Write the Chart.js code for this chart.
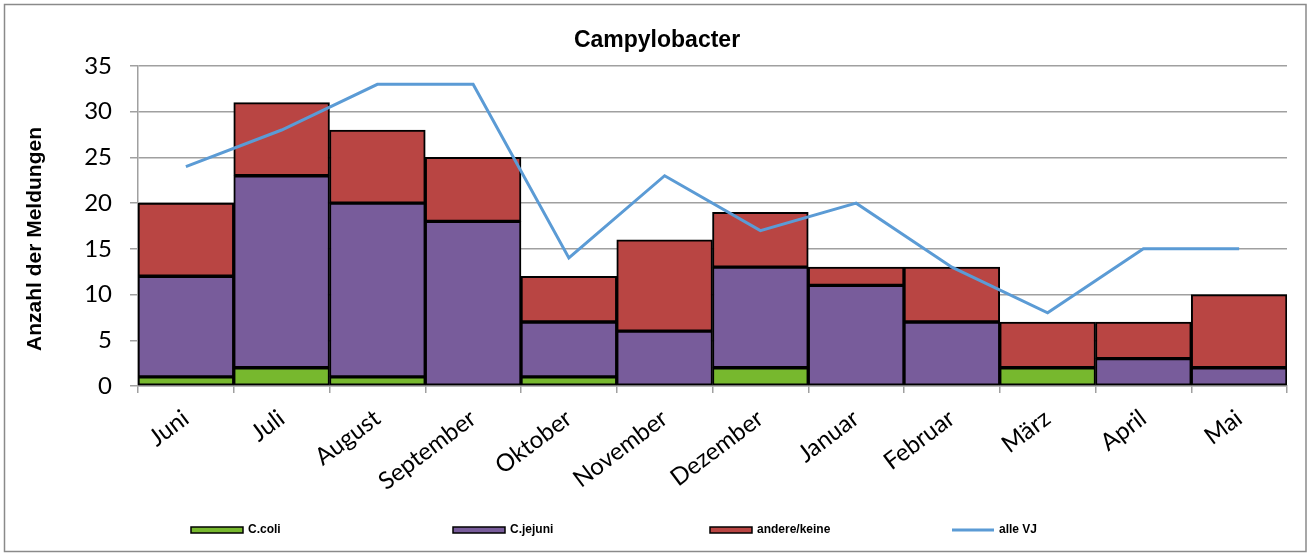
<!DOCTYPE html>
<html>
<head>
<meta charset="utf-8">
<script src="https://cdn.jsdelivr.net/npm/chart.js@4/dist/chart.umd.min.js"></script>
<style>
html,body{margin:0;padding:0;background:#fff;}
#wrap{width:1310px;height:555px;position:relative;}
</style>
</head>
<body>
<div id="wrap"><canvas id="c" width="1310" height="555"></canvas></div>
<script>
const categories = ["Juni","Juli","August","September","Oktober","November","Dezember","Januar","Februar","März","April","Mai"];
const cColi    = [1, 2, 1, 0, 1, 0, 2, 0, 0, 2, 0, 0];
const cJejuni  = [11, 21, 19, 18, 6, 6, 11, 11, 7, 0, 3, 2];
const andere   = [8, 8, 8, 7, 5, 10, 6, 2, 6, 5, 4, 8];
const alleVJ   = [24, 28, 33, 33, 14, 23, 17, 20, 13, 8, 15, 15];
const yTicks   = [0, 5, 10, 15, 20, 25, 30, 35];
const chartTitle = "Campylobacter";
const yTitle = "Anzahl der Meldungen";

const GREEN = '#77B82E', PURPLE = '#785C9B', RED = '#B94543', BLUE = '#5B9BD5';

const decor = {
  id: 'decor',
  beforeDraw(chart) {
    const ctx = chart.ctx;
    ctx.save();
    ctx.fillStyle = '#fff';
    ctx.fillRect(0, 0, chart.width, chart.height);
    ctx.strokeStyle = '#8a8a8a';
    ctx.lineWidth = 1.5;
    ctx.strokeRect(4.5, 4.5, chart.width - 8.5, chart.height - 8);
    ctx.restore();
  },
  afterDraw(chart) {
    const ctx = chart.ctx;
    ctx.save();
    // title
    ctx.fillStyle = '#000';
    ctx.font = 'bold 23px "Liberation Sans", Arial, sans-serif';
    ctx.textAlign = 'center';
    ctx.textBaseline = 'middle';
    ctx.fillText(chartTitle, 657, 41);
    // y title
    ctx.translate(35, 239);
    ctx.rotate(-Math.PI / 2);
    ctx.font = 'bold 21px "Liberation Sans", Arial, sans-serif';
    ctx.fillText(yTitle, 0, 0);
    ctx.restore();
    // legend
    ctx.save();
    const items = chart.data.datasets.map(d => ({label: d.label, color: d.backgroundColor, line: d.type === 'line', stroke: d.borderColor}));
    const xs = [191, 453, 710, 952];
    const ws = [52, 52, 42, 42];
    const ly = 530;
    ctx.font = 'bold 12px "Liberation Sans", Arial, sans-serif';
    ctx.textBaseline = 'middle';
    ctx.textAlign = 'left';
    items.forEach((it, i) => {
      const x = xs[i];
      if (it.line) {
        ctx.strokeStyle = it.stroke;
        ctx.lineWidth = 3;
        ctx.beginPath();
        ctx.moveTo(x, ly);
        ctx.lineTo(x + ws[i], ly);
        ctx.stroke();
      } else {
        ctx.fillStyle = it.color;
        ctx.fillRect(x, ly - 3, ws[i], 6);
        ctx.strokeStyle = '#000';
        ctx.lineWidth = 1.5;
        ctx.strokeRect(x, ly - 3, ws[i], 6);
      }
      ctx.fillStyle = '#000';
      ctx.fillText(it.label, x + ws[i] + 5, ly);
    });
    ctx.restore();
  }
};

const barCommon = {
  borderColor: '#000',
  borderWidth: 2,
  borderSkipped: false,
  barPercentage: 1.0,
  categoryPercentage: 1.0,
  stack: 'bars',
  order: 1
};

new Chart(document.getElementById('c'), {
  data: {
    labels: categories,
    datasets: [
      Object.assign({type: 'bar', label: 'C.coli', data: cColi, backgroundColor: GREEN}, barCommon),
      Object.assign({type: 'bar', label: 'C.jejuni', data: cJejuni, backgroundColor: PURPLE}, barCommon),
      Object.assign({type: 'bar', label: 'andere/keine', data: andere, backgroundColor: RED}, barCommon),
      {type: 'line', label: 'alle VJ', data: alleVJ, borderColor: BLUE, backgroundColor: BLUE,
       borderWidth: 3, pointRadius: 0, tension: 0, fill: false, stack: 'line', order: 0}
    ]
  },
  options: {
    responsive: false,
    animation: false,
    layout: {padding: {left: 0, right: 23, top: 66, bottom: 0}},
    plugins: {legend: {display: false}, title: {display: false}, tooltip: {enabled: false}},
    scales: {
      x: {
        stacked: true,
        offset: true,
        grid: {display: true, drawOnChartArea: false, drawTicks: true, tickLength: 7, color: '#a0a0a0', offset: true, lineWidth: 1.5},
        border: {display: true, color: '#a0a0a0', width: 1.5},
        ticks: {
          color: '#000',
          font: {family: 'Lato, "Open Sans", sans-serif', size: 24},
          minRotation: 37, maxRotation: 37,
          padding: 11,
          autoSkip: false
        },
        afterFit(scale) { scale.height = 169; }
      },
      y: {
        stacked: true,
        min: 0, max: 35,
        afterBuildTicks(scale) { scale.ticks = yTicks.map(v => ({value: v})); },
        grid: {color: '#a0a0a0', lineWidth: 1.5, drawTicks: true, tickLength: 8},
        border: {display: true, color: '#a0a0a0', width: 1.5},
        ticks: {
          color: '#000',
          font: {family: 'Lato, "Open Sans", sans-serif', size: 24},
          padding: 18
        },
        afterFit(scale) { scale.width = 138; }
      }
    }
  },
  plugins: [decor]
});
</script>
</body>
</html>
